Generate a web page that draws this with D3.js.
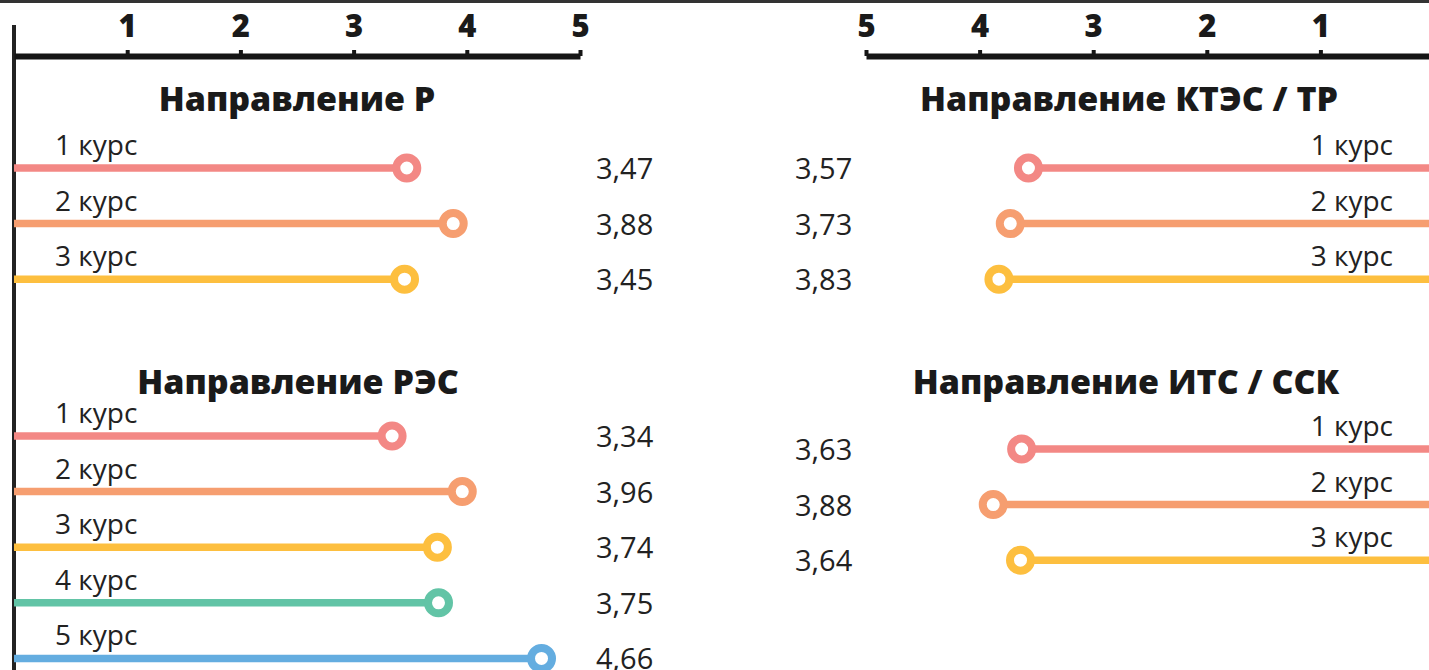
<!DOCTYPE html>
<html>
<head>
<meta charset="utf-8">
<script src="https://cdn.jsdelivr.net/npm/d3@7/dist/d3.min.js"></script>
<style>
  html, body { margin: 0; padding: 0; background: #fff; }
  svg { display: block; }
</style>
</head>
<body>
<svg id="chart" width="1429" height="670"></svg>
<script>
// ---- data ----
const tickValues = [1, 2, 3, 4, 5];
const courses = ["1 курс", "2 курс", "3 курс", "4 курс", "5 курс"];
const courseColors = ["#f38885", "#f69e70", "#fdbf3f", "#62c4a6", "#64ade0"];

const titleR = "Направление Р";
const valuesR = [3.47, 3.88, 3.45];
const titleRES = "Направление РЭС";
const valuesRES = [3.34, 3.96, 3.74, 3.75, 4.66];
const titleKTES = "Направление КТЭС / ТР";
const valuesKTES = [3.57, 3.73, 3.83];
const titleITS = "Направление ИТС / ССК";
const valuesITS = [3.63, 3.88, 3.64];

// ---- layout ----
const W = 1429, H = 670;
const svg = d3.select("#chart");
const font = "'Open Sans', 'DejaVu Sans', sans-serif";
const axisY = 56;
const rowStep = 55.6;

const xLeft = d3.scaleLinear().domain([0, 5]).range([14, 580]);
const xRight = d3.scaleLinear().domain([0, 5]).range([1434, 866]);

// top border line
svg.append("line").attr("x1", 0).attr("x2", W).attr("y1", 1.5).attr("y2", 1.5)
  .attr("stroke", "#333").attr("stroke-width", 3);

// left vertical axis
svg.append("line").attr("x1", 14).attr("x2", 14).attr("y1", 25).attr("y2", H)
  .attr("stroke", "#222").attr("stroke-width", 4);

function drawAxis(scale) {
  const g = svg.append("g").attr("transform", `translate(0,${axisY})`)
    .call(d3.axisTop(scale).tickValues(tickValues).tickFormat(d3.format("d"))
      .tickSize(6).tickSizeOuter(0).tickPadding(13));
  g.select(".domain").attr("stroke", "#151515").attr("stroke-width", 6);
  g.selectAll(".tick line").attr("stroke", "#151515").attr("stroke-width", 4);
  g.selectAll(".tick text")
    .attr("fill", "#1a1a1a")
    .attr("font-family", font)
    .attr("font-weight", 800)
    .attr("font-size", 31);
}
drawAxis(xLeft);
drawAxis(xRight);

function drawPanel(opts) {
  const { title, values, scale, side, titleX, titleY, firstY, valueX } = opts;
  const g = svg.append("g");
  g.append("text")
    .attr("x", titleX).attr("y", titleY)
    .attr("text-anchor", "middle")
    .attr("font-family", font).attr("font-weight", 800).attr("font-size", 34)
    .attr("fill", "#1a1a1a")
    .text(title);

  const rows = values.map((v, i) => ({ v, i, y: firstY + i * rowStep }));
  const base = scale(0);

  const row = g.selectAll("g.row").data(rows).join("g").attr("class", "row");

  row.append("line")
    .attr("x1", base).attr("x2", d => scale(d.v))
    .attr("y1", d => d.y).attr("y2", d => d.y)
    .attr("stroke", d => courseColors[d.i]).attr("stroke-width", 7.5);

  row.append("circle")
    .attr("cx", d => scale(d.v)).attr("cy", d => d.y).attr("r", 10.5)
    .attr("fill", "#fff")
    .attr("stroke", d => courseColors[d.i]).attr("stroke-width", 8);

  row.append("text")
    .attr("x", side === "left" ? 55 : 1393)
    .attr("y", d => d.y - 13)
    .attr("text-anchor", side === "left" ? "start" : "end")
    .attr("font-family", font).attr("font-size", 28)
    .attr("fill", "#222")
    .text(d => courses[d.i]);

  row.append("text")
    .attr("x", valueX)
    .attr("y", d => d.y + 11)
    .attr("font-family", font).attr("font-size", 29)
    .attr("fill", "#222")
    .text(d => d3.format(".2f")(d.v).replace(".", ","));
}

drawPanel({ title: titleR, values: valuesR, scale: xLeft, side: "left",
  titleX: 297, titleY: 111, firstY: 168, valueX: 596 });
drawPanel({ title: titleRES, values: valuesRES, scale: xLeft, side: "left",
  titleX: 298, titleY: 394, firstY: 436, valueX: 596 });
drawPanel({ title: titleKTES, values: valuesKTES, scale: xRight, side: "right",
  titleX: 1129, titleY: 111, firstY: 168, valueX: 795 });
drawPanel({ title: titleITS, values: valuesITS, scale: xRight, side: "right",
  titleX: 1126, titleY: 394, firstY: 449, valueX: 795 });
</script>
</body>
</html>
